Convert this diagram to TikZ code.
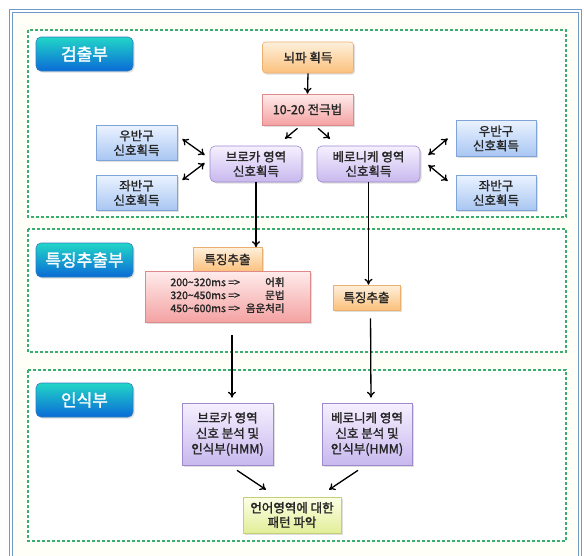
\documentclass[tikz,border=0pt]{standalone}
\usepackage{fontspec}
\newfontfamily\kr{Noto Sans CJK KR}[FakeBold=1.6]
\usetikzlibrary{arrows.meta,shadows}
\definecolor{framec}{HTML}{6E9CC8}
\definecolor{cream}{HTML}{FFFFF7}
\definecolor{dgreen}{HTML}{3AAE6E}
\definecolor{labtop}{HTML}{22D6C8}
\definecolor{labbot}{HTML}{0A6AD6}
\definecolor{labdraw}{HTML}{2C7FC0}
\definecolor{ortop}{HTML}{FEF0DC}
\definecolor{orbot}{HTML}{FBC07C}
\definecolor{ordraw}{HTML}{EAB070}
\definecolor{rdtop}{HTML}{FFECEC}
\definecolor{rdbot}{HTML}{F4A2A2}
\definecolor{rddraw}{HTML}{DE8A8A}
\definecolor{bltop}{HTML}{EAF2FF}
\definecolor{blbot}{HTML}{A8C6F2}
\definecolor{bldraw}{HTML}{7EA4DA}
\definecolor{putop}{HTML}{F6F0FF}
\definecolor{pubot}{HTML}{C8B8EE}
\definecolor{pudraw}{HTML}{9C8ACC}
\definecolor{yetop}{HTML}{FCFFE6}
\definecolor{yebot}{HTML}{E2EE98}
\definecolor{yedraw}{HTML}{C6CE78}
\definecolor{txt}{HTML}{262626}
\tikzset{
  base/.style={font=\kr\fontsize{12.5}{14.5}\selectfont, text=txt, align=center, inner sep=0pt, line width=0.6pt,
    drop shadow={opacity=0.25, shadow xshift=1.5pt, shadow yshift=-1.5pt}},
  labelbox/.style={base, draw=labdraw, top color=labtop, bottom color=labbot, rounded corners=5pt,
    minimum width=97pt, minimum height=34pt, text=white, font=\kr\fontsize{17}{20}\selectfont},
  orbox/.style={base, draw=ordraw, top color=ortop, bottom color=orbot, rounded corners=3pt},
  rdbox/.style={base, draw=rddraw, top color=rdtop, bottom color=rdbot},
  blbox/.style={base, draw=bldraw, top color=bltop, bottom color=blbot},
  pubox/.style={base, draw=pudraw, top color=putop, bottom color=pubot, rounded corners=5pt},
  pusq/.style={base, draw=pudraw, top color=putop, bottom color=pubot},
  yebox/.style={base, draw=yedraw, top color=yetop, bottom color=yebot},
  section/.style={draw=dgreen, line width=1.1pt, dash pattern=on 3pt off 2pt},
  arr/.style={-{To[length=6pt,width=8pt]}, line width=1.3pt, black},
  darr/.style={{To[length=6pt,width=8pt]}-{To[length=6pt,width=8pt]}, line width=1.3pt, black},
}
\begin{document}
\begin{tikzpicture}[x=1pt,y=-1pt]
\useasboundingbox (0,0) rectangle (584,555);
\clip (0,0) rectangle (584,555);
\fill[white] (0,0) rectangle (584,555);
\draw[draw=framec, double=white, double distance=1.6pt, line width=0.9pt, fill=cream] (11,11) rectangle (580,570);

% section boxes
\draw[section, fill=white] (28,30) rectangle (566,217);
\draw[section, fill=white] (28,229) rectangle (566,352);
\draw[section, fill=white] (28,370) rectangle (566,541);

% section labels
\node[labelbox] (l1) at (84.5,54) {검출부};
\node[labelbox] (l2) at (84.5,260) {특징추출부};
\node[labelbox] (l3) at (84.5,400) {인식부};

% detection part
\node[orbox, minimum width=91pt, minimum height=31pt] (eeg) at (308,57.5) {뇌파 획득};
\node[rdbox, minimum width=91pt, minimum height=31pt] (e1020) at (307.5,109.5) {10-20 전극법};
\node[blbox, minimum width=81pt, minimum height=35pt] (rhL) at (136.5,143) {우반구\\신호획득};
\node[blbox, minimum width=81pt, minimum height=35pt] (lhL) at (136.5,193) {좌반구\\신호획득};
\node[pubox, minimum width=92pt, minimum height=36pt] (broca) at (256,164) {브로카 영역\\신호획득};
\node[pubox, minimum width=103pt, minimum height=36pt] (ver) at (368.5,164) {베로니케 영역\\신호획득};
\node[blbox, minimum width=80pt, minimum height=36pt] (rhR) at (496,138.5) {우반구\\신호획득};
\node[blbox, minimum width=80pt, minimum height=35pt] (lhR) at (496,193) {좌반구\\신호획득};

% feature extraction part
\node[orbox, rounded corners=0pt, minimum width=69pt, minimum height=24pt] (fe1) at (227.5,259.5) {특징추출};
\node[rdbox, minimum width=165pt, minimum height=51pt, font=\kr\fontsize{10.5}{13}\selectfont] (red) at (227.5,296.5)
  {\begin{tabular}{@{}l@{\hspace{6pt}}r@{}}200\textasciitilde320ms =\textgreater & 어휘\\ 320\textasciitilde450ms =\textgreater & 문법\\ 450\textasciitilde600ms =\textgreater & 음운처리\end{tabular}};
\node[orbox, rounded corners=0pt, minimum width=67pt, minimum height=25pt] (fe2) at (366.5,297.5) {특징추출};

% recognition part
\node[pusq, minimum width=91pt, minimum height=62pt, font=\kr\fontsize{12.5}{15.5}\selectfont] (hmmL) at (227.5,434) {브로카 영역\\신호 분석 및\\인식부(HMM)};
\node[pusq, minimum width=90pt, minimum height=62pt, font=\kr\fontsize{12.5}{15.5}\selectfont] (hmmR) at (367,434) {베로니케 영역\\신호 분석 및\\인식부(HMM)};
\node[yebox, minimum width=98pt, minimum height=36pt] (pat) at (292,515) {언어영역에 대한\\패턴 파악};

% connectors
\draw[arr] (eeg.south) -- (e1020.north);
\draw[arr] ([shift={(-10,3)}]e1020.south) -- ([shift={(29,-7)}]broca.north);
\draw[arr] ([shift={(10.5,3)}]e1020.south) -- ([shift={(-38.5,-7)}]ver.north);
\draw[darr] ([shift={(5,-4)}]rhL.east) -- ([shift={(-5,-9)}]broca.west);
\draw[darr] ([shift={(5,-13)}]lhL.east) -- ([shift={(-5,-1)}]broca.west);
\draw[darr] ([shift={(8,-9)}]ver.east) -- ([shift={(-8,0)}]rhR.west);
\draw[darr] ([shift={(8,1)}]ver.east) -- ([shift={(-8,-12)}]lhR.west);
\draw[arr] (broca.south) -- (broca.south |- fe1.north);
\draw[arr] (ver.south) -- (ver.south |- fe2.north);
\draw[arr, shorten <=13pt, shorten >=5pt] ([xshift=4.5]red.south) -- ([xshift=4.5]hmmL.north);
\draw[arr, shorten <=8pt, shorten >=5pt] ([xshift=4]fe2.south) -- ([xshift=4]hmmR.north);
\draw[arr] ([shift={(9.5,5)}]hmmL.south) -- ([shift={(-26,-7)}]pat.north);
\draw[arr] ([shift={(-9,5)}]hmmR.south) -- ([shift={(37,-7)}]pat.north);
\end{tikzpicture}
\end{document}
